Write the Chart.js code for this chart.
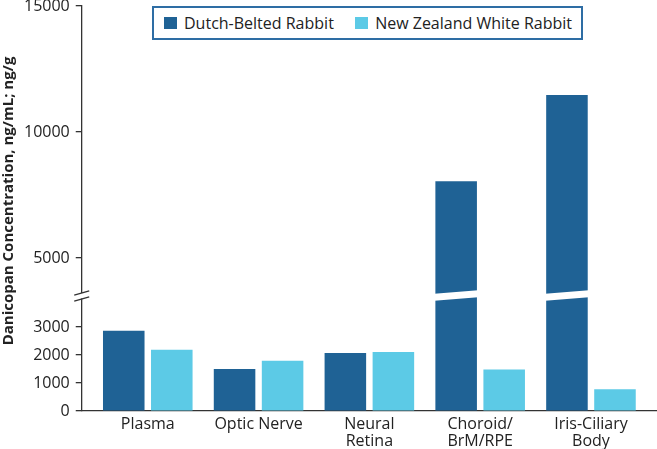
<!DOCTYPE html>
<html>
<head>
<meta charset="utf-8">
<script src="https://cdn.jsdelivr.net/npm/chart.js@4.4.1/dist/chart.umd.min.js"></script>
<style>
  html, body { margin: 0; padding: 0; background: #fff; }
  #wrap { position: relative; width: 657px; height: 449px; }
  #legend {
    position: absolute; left: 152px; top: 6px; width: 431px; height: 34px;
    box-sizing: border-box; border: 2px solid #2E6DA4; background: #fff;
    display: flex; align-items: center; justify-content: space-between;
    padding: 0 9px 0 10px; font: 16px 'Open Sans', sans-serif; color: #222;
  }
  .item { display: flex; align-items: center; white-space: nowrap; }
  .sw { width: 13px; height: 12px; margin-right: 7px; display: inline-block; }
</style>
</head>
<body>
<div id="wrap">
  <canvas id="c" width="657" height="449"></canvas>
  <div id="legend"></div>
</div>
<script>
const categories = ['Plasma', 'Optic Nerve', 'Neural Retina', 'Choroid/BrM/RPE', 'Iris-Ciliary Body'];
const tickLabels = [['Plasma'], ['Optic Nerve'], ['Neural', 'Retina'], ['Choroid/', 'BrM/RPE'], ['Iris-Ciliary', 'Body']];
const seriesNames = ['Dutch-Belted Rabbit', 'New Zealand White Rabbit'];
const dutchBelted = [2870, 1500, 2080, 8050, 11470];
const newZealandWhite = [2190, 1800, 2110, 1490, 780];
const yTicksLower = [0, 1000, 2000, 3000];
const yTicksUpper = [5000, 10000, 15000];
const axisTitle = 'Danicopan Concentration, ng/mL; ng/g';

const colors = ['#1F6295', '#5CCAE6'];
const LOW_MAX = 4129;   // top of the lower axis segment
const HIGH_MIN = 3516;  // bottom of the upper axis segment

const lowDB = dutchBelted.map((v, i) => ({ x: i, y: Math.min(v, LOW_MAX) }));
const highDB = dutchBelted.map((v, i) => ({ x: i, y: v > LOW_MAX ? v : null }));
const nzw = newZealandWhite.map((v, i) => ({ x: i, y: v }));

// legend
const lg = document.getElementById('legend');
seriesNames.forEach((n, i) => {
  const it = document.createElement('div'); it.className = 'item';
  const sw = document.createElement('span'); sw.className = 'sw'; sw.style.background = colors[i];
  const t = document.createElement('span'); t.textContent = n;
  it.appendChild(sw); it.appendChild(t); lg.appendChild(it);
});

const axisColor = '#333333';
const tickFont = { family: "'Open Sans', sans-serif", size: 16, lineHeight: 0.01 };

const breakPlugin = {
  id: 'breaks',
  afterDatasetsDraw(chart) {
    const ctx = chart.ctx;
    const yH = chart.scales.yHigh;
    const B = yH.bottom;
    const meta = chart.getDatasetMeta(2);
    const slope = -3.5 / 41;
    ctx.save();
    ctx.fillStyle = '#ffffff';
    meta.data.forEach((bar, i) => {
      if (highDB[i].y === null) return;
      const L = bar.x - bar.width / 2 - 1, R = bar.x + bar.width / 2 + 1;
      const c = (x) => B + slope * (x - bar.x);
      ctx.beginPath();
      ctx.moveTo(L, c(L) - 3.5);
      ctx.lineTo(R, c(R) - 3.5);
      ctx.lineTo(R, c(R) + 3.5);
      ctx.lineTo(L, c(L) + 3.5);
      ctx.closePath();
      ctx.fill();
    });
    // axis break
    const ax = chart.scales.yLow.right;
    ctx.fillRect(ax - 3, B - 2.5, 6, 5.5);
    ctx.strokeStyle = axisColor;
    ctx.lineWidth = 1.3;
    const aslope = -4.3 / 15;
    [B - 2.6, B + 3.4].forEach(cy => {
      ctx.beginPath();
      ctx.moveTo(ax - 7.5, cy - aslope * 7.5);
      ctx.lineTo(ax + 7.5, cy + aslope * 7.5);
      ctx.stroke();
    });
    ctx.restore();
  },
  afterDraw(chart) {
    const ctx = chart.ctx;
    ctx.save();
    ctx.translate(9, 201);
    ctx.rotate(-Math.PI / 2);
    ctx.font = "bold 15px 'Open Sans', sans-serif";
    ctx.fillStyle = '#222';
    ctx.textAlign = 'center';
    ctx.textBaseline = 'middle';
    ctx.fillText(axisTitle, 0, 0);
    ctx.restore();
  }
};

const yCommon = {
  type: 'linear', position: 'left', stack: 'v',
  border: { display: true, color: axisColor, width: 1.3 },
  grid: { drawOnChartArea: false, drawTicks: true, tickLength: 6, color: axisColor, lineWidth: 1.3 },
  ticks: { font: tickFont, color: '#222', padding: 6, autoSkip: false, callback: (v) => String(v) }
};

new Chart(document.getElementById('c'), {
  type: 'bar',
  data: {
    datasets: [
      { label: seriesNames[0], data: lowDB, backgroundColor: colors[0], yAxisID: 'yLow', stack: 'db' },
      { label: seriesNames[1], data: nzw, backgroundColor: colors[1], yAxisID: 'yLow', stack: 'nzw' },
      { label: seriesNames[0] + ' (upper)', data: highDB, backgroundColor: colors[0], yAxisID: 'yHigh', stack: 'db' }
    ]
  },
  options: {
    responsive: false,
    animation: false,
    categoryPercentage: 0.867,
    barPercentage: 0.865,
    layout: { padding: { left: 18, right: 0, top: 0, bottom: -6 } },
    plugins: { legend: { display: false }, tooltip: { enabled: false } },
    scales: {
      x: {
        type: 'linear', min: -0.596, max: 4.596, offset: false,
        afterBuildTicks: (s) => { s.ticks = categories.map((_, i) => ({ value: i })); },
        border: { display: true, color: axisColor, width: 1.3 },
        grid: { display: true, offset: false, drawOnChartArea: false, drawTicks: false },
        ticks: {
          font: { family: "'Open Sans', sans-serif", size: 16, lineHeight: 1.04 },
          color: '#222', padding: 5.3, autoSkip: false, maxRotation: 0,
          callback: (v, i) => tickLabels[i]
        }
      },
      yLow: Object.assign({}, yCommon, {
        min: 0, max: LOW_MAX, stacked: false, stackWeight: 115.6,
        afterBuildTicks: (s) => { s.ticks = yTicksLower.map(v => ({ value: v })); }
      }),
      yHigh: Object.assign({}, yCommon, {
        min: HIGH_MIN, max: 15000, stacked: false, stackWeight: 289.4,
        afterBuildTicks: (s) => { s.ticks = yTicksUpper.map(v => ({ value: v })); }
      })
    }
  },
  plugins: [breakPlugin]
});
</script>
</body>
</html>
